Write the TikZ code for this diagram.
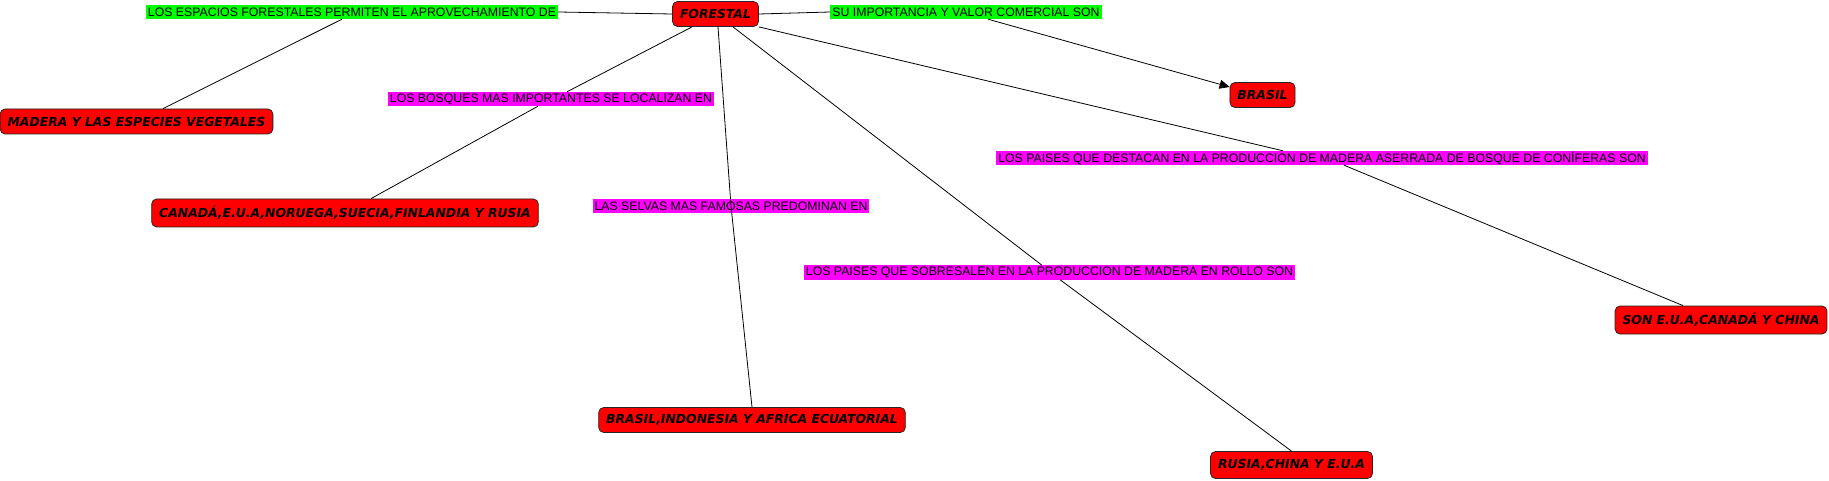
\documentclass[tikz,border=0pt]{standalone}
\usepackage{fontspec}
\usepackage{xcolor}
\definecolor{conceptred}{RGB}{255,0,0}
\definecolor{phrasegreen}{RGB}{0,255,0}
\definecolor{phrasepink}{RGB}{255,0,255}
\newfontfamily\phrasefont{Liberation Sans}
\newfontfamily\conceptfont{DejaVu Sans}
\usetikzlibrary{arrows.meta}

\begin{document}
\begin{tikzpicture}[x=1pt, y=-1pt, >={Triangle[length=10pt, width=9pt]},
    concept/.style={draw=black!85, fill=conceptred, rounded corners=5pt, line width=0.8pt,
      inner xsep=7.5pt, minimum height=25pt, font=\conceptfont\bfseries\itshape\fontsize{12.4pt}{14pt}\selectfont},
    phrase/.style={inner xsep=2pt, inner ysep=0pt, minimum height=14pt,
      font=\phrasefont\fontsize{12.3pt}{14pt}\selectfont},
    link/.style={line width=0.8pt}]
    \useasboundingbox (0,0) rectangle (1829,481);

    % Concepts
    \node[concept] (forestal) at (715.5,14) {FORESTAL};
    \node[concept] (brasil) at (1262.5,95) {BRASIL};
    \node[concept] (madera) at (136.5,121.5) {MADERA Y LAS ESPECIES VEGETALES};
    \node[concept, minimum height=28pt] (norte) at (345,213) {CANADÁ,E.U.A,NORUEGA,SUECIA,FINLANDIA Y RUSIA};
    \node[concept] (tropico) at (752,420) {BRASIL,INDONESIA Y AFRICA ECUATORIAL};
    \node[concept, minimum height=27pt] (rollo) at (1291.5,465) {RUSIA,CHINA Y E.U.A};
    \node[concept, minimum height=28pt] (aserrada) at (1721,320) {SON E.U.A,CANADÁ Y CHINA};

    % Linking phrases
    \node[phrase, fill=phrasegreen] (espacios) at (352,12) {LOS ESPACIOS FORESTALES PERMITEN EL APROVECHAMIENTO DE};
    \node[phrase, fill=phrasegreen] (valor) at (966,12) {SU IMPORTANCIA Y VALOR COMERCIAL SON};
    \node[phrase, fill=phrasepink] (bosques) at (551,99) {LOS BOSQUES MAS IMPORTANTES SE LOCALIZAN EN};
    \node[phrase, fill=phrasepink] (selvas) at (731,206) {LAS SELVAS MAS FAMOSAS PREDOMINAN EN};
    \node[phrase, fill=phrasepink] (sobresalen) at (1049.5,272.5) {LOS PAISES QUE SOBRESALEN EN LA PRODUCCION DE MADERA EN ROLLO SON};
    \node[phrase, fill=phrasepink] (destacan) at (1322,158) {LOS PAISES QUE DESTACAN EN LA PRODUCCION DE MADERA ASERRADA DE BOSQUE DE CONÍFERAS SON};

    % Connectors
    \draw[link] (forestal.west) -- (espacios.east);
    \draw[link] ([xshift=-10pt]espacios.south) -- ([xshift=26.5pt]madera.north);
    \draw[link] (forestal.east) -- (valor.west);
    \draw[link, ->] ([xshift=22pt]valor.south) -- ([yshift=8pt]brasil.west);
    \draw[link] ([xshift=-23.5pt]forestal.south) -- ([xshift=16pt]bosques.north);
    \draw[link] ([xshift=-13pt]bosques.south) -- ([xshift=26pt]norte.north);
    \draw[link] ([xshift=2.5pt]forestal.south) -- (selvas.center) -- (tropico.north);
    \draw[link] ([xshift=17.5pt]forestal.south) -- ([xshift=-7.5pt]sobresalen.north);
    \draw[link] ([xshift=10.5pt]sobresalen.south) -- (rollo.north);
    \draw[link] (forestal.south east) -- ([xshift=-39pt]destacan.north);
    \draw[link] ([xshift=22pt]destacan.south) -- ([xshift=-38pt]aserrada.north);
\end{tikzpicture}
\end{document}
